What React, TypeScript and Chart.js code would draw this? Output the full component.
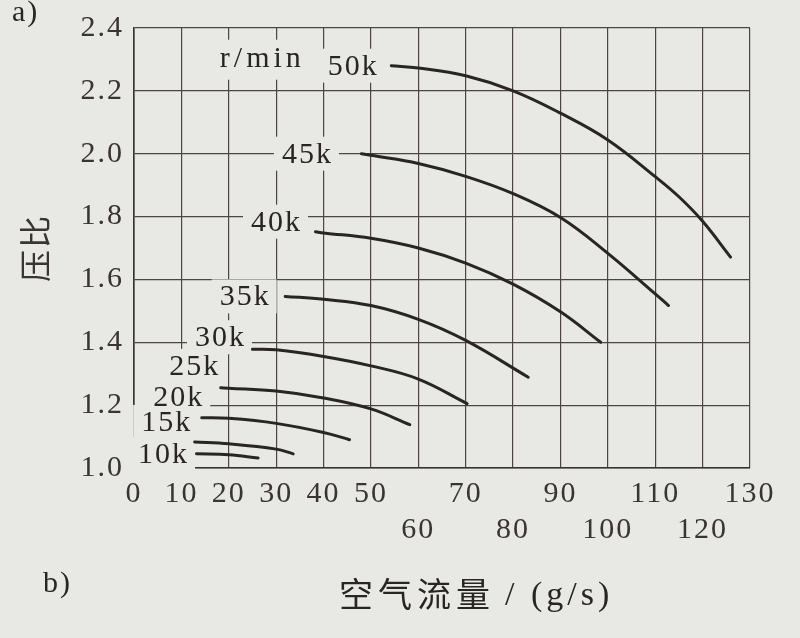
import { useEffect, useRef } from 'react';
import { Chart, registerables } from 'chart.js';

Chart.register(...registerables);

// Speed lines (r/min)
const speedLabels = ['10k', '15k', '20k', '25k', '30k', '35k', '40k', '45k', '50k'];
const speedUnit = 'r/min';

// Air flow (g/s) and pressure ratio for each speed line
const flow10k = [13.2, 20, 26.2];
const ratio10k = [1.045, 1.042, 1.032];
const flow15k = [12.8, 20, 30, 33.6];
const ratio15k = [1.083, 1.077, 1.06, 1.045];
const flow20k = [14.3, 20, 30, 40, 45.5];
const ratio20k = [1.16, 1.158, 1.142, 1.113, 1.09];
const flow25k = [18.3, 20, 30, 40, 50, 58.2];
const ratio25k = [1.255, 1.254, 1.245, 1.223, 1.188, 1.138];
const flow30k = [25, 30, 40, 50, 60, 70.3];
const ratio30k = [1.378, 1.376, 1.355, 1.325, 1.283, 1.205];
const flow35k = [31.9, 40, 50, 60, 70, 83.2];
const ratio35k = [1.546, 1.537, 1.517, 1.473, 1.406, 1.289];
const flow40k = [38.3, 40, 50, 60, 70, 80, 90, 98.5];
const ratio40k = [1.752, 1.748, 1.731, 1.7, 1.652, 1.585, 1.497, 1.4];
const flow45k = [48, 50, 60, 70, 80, 90, 100, 110, 112.8];
const ratio45k = [2.0, 1.995, 1.969, 1.928, 1.873, 1.797, 1.683, 1.554, 1.517];
const flow50k = [54.3, 60, 70, 80, 90, 100, 110, 115, 120, 125.9];
const ratio50k = [2.28, 2.273, 2.248, 2.2, 2.129, 2.044, 1.927, 1.863, 1.785, 1.671];

// Axis ticks
const xMin = 0;
const xMax = 130;
const xStep = 10;
const xSecondRowTicks = [60, 80, 100, 120];
const yMin = 1.0;
const yMax = 2.4;
const yStep = 0.2;

// Texts
const xTitleCjk = '空气流量';
const xTitleUnit = '/ (g/s)';
const yTitle = '压比';
const panelA = 'a)';
const panelB = 'b)';

const flows = [flow10k, flow15k, flow20k, flow25k, flow30k, flow35k, flow40k, flow45k, flow50k];
const ratios = [ratio10k, ratio15k, ratio20k, ratio25k, ratio30k, ratio35k, ratio40k, ratio45k, ratio50k];

// label placement relative to the start of each speed line (pixels)
const labelOffsets = [
  [-34, 0], [-29, -20], [-24, -21], [-27, -22], [-33, -12],
  [-41, 0], [-40, -10], [-55, 0], [-39, 0],
];

const BG = '#e8e8e4';
const INK = '#2a2525';
const GRID = '#4d4545';
const SERIF = '"Liberation Serif", "Times New Roman", serif';
const CJK = '"Noto Sans CJK SC", sans-serif';

export default function App() {
  const ref = useRef<HTMLCanvasElement | null>(null);

  useEffect(() => {
    if (!ref.current) return;

    const datasets = speedLabels.map((label, i) => ({
      label,
      data: flows[i].map((x, j) => ({ x, y: ratios[i][j] })),
      borderColor: INK,
      backgroundColor: INK,
      borderWidth: 3,
      pointRadius: 0,
      tension: 0.4,
      borderCapStyle: 'round' as const,
      fill: false,
    }));

    const decor = {
      id: 'decor',
      beforeDraw(chart: any) {
        const { ctx } = chart;
        ctx.save();
        ctx.fillStyle = BG;
        ctx.fillRect(0, 0, chart.width, chart.height);
        ctx.restore();
        ctx.letterSpacing = '2px';
      },
      beforeDatasetsDraw(chart: any) {
        const { ctx, scales } = chart;
        ctx.save();
        ctx.font = `30px ${SERIF}`;
        ctx.letterSpacing = '2px';
        ctx.textAlign = 'center';
        ctx.textBaseline = 'middle';
        const items = speedLabels.map((label, i) => {
          const px = scales.x.getPixelForValue(flows[i][0]);
          const py = scales.y.getPixelForValue(ratios[i][0]);
          return { label, cx: px + labelOffsets[i][0], cy: py + labelOffsets[i][1] };
        });
        const top = items[items.length - 1];
        const unit = { cx: top.cx - 92, cy: top.cy - 8 };
        ctx.fillStyle = BG;
        items.forEach((it) => {
          const w = ctx.measureText(it.label).width;
          ctx.fillRect(it.cx - w / 2 - 7, it.cy - 17, w + 14, 34);
        });
        ctx.letterSpacing = '4px';
        const uw = ctx.measureText(speedUnit).width;
        ctx.fillRect(unit.cx - uw / 2 - 7, unit.cy - 18, uw + 14, 40);
        ctx.fillStyle = INK;
        ctx.fillText(speedUnit, unit.cx + 2, unit.cy + 1);
        ctx.letterSpacing = '2px';
        items.forEach((it) => ctx.fillText(it.label, it.cx + 1, it.cy + 1));
        ctx.restore();
      },
      afterDraw(chart: any) {
        const { ctx } = chart;
        ctx.save();
        ctx.fillStyle = INK;
        ctx.textBaseline = 'middle';
        ctx.textAlign = 'left';
        ctx.font = `30px ${SERIF}`;
        ctx.letterSpacing = '2px';
        ctx.fillText(panelA, 12, 13);
        ctx.fillText(panelB, 43, 584);
        ctx.font = `34px ${CJK}`;
        ctx.letterSpacing = '5px';
        const x0 = 339;
        ctx.fillText(xTitleCjk, x0, 594);
        const w = ctx.measureText(xTitleCjk).width;
        ctx.font = `34px ${SERIF}`;
        ctx.letterSpacing = '4px';
        ctx.fillText(xTitleUnit, x0 + w + 10, 596);
        ctx.restore();
      },
    };

    const chart = new Chart(ref.current, {
      type: 'line',
      data: { datasets },
      plugins: [decor],
      options: {
        responsive: false,
        animation: false,
        layout: { padding: { left: 0, right: 50, top: 21, bottom: 0 } },
        plugins: {
          legend: { display: false },
          tooltip: { enabled: false },
        },
        scales: {
          x: {
            type: 'linear',
            min: xMin,
            max: xMax,
            afterFit(scale: any) { scale.height = 170; },
            grid: { color: GRID, lineWidth: 1.2, drawTicks: false },
            border: { display: true, color: '#3a3232', width: 1.6 },
            ticks: {
              stepSize: xStep,
              autoSkip: false,
              maxRotation: 0,
              padding: 8,
              color: '#3a3434',
              font: { family: SERIF, size: 30, lineHeight: 1.2 },
              callback: (v: any) => (xSecondRowTicks.includes(Number(v)) ? ['', String(v)] : String(v)),
            },
          },
          y: {
            type: 'linear',
            min: yMin,
            max: yMax,
            afterFit(scale: any) { scale.width = 134; },
            grid: { color: GRID, lineWidth: 1.2, drawTicks: false },
            border: { display: true, color: '#3a3232', width: 1.6 },
            title: {
              display: true,
              text: yTitle,
              color: '#3a3434',
              font: { family: CJK, size: 32, lineHeight: 1.2 },
              padding: { top: 16, bottom: 0 },
            },
            ticks: {
              stepSize: yStep,
              padding: 10,
              color: '#3a3434',
              font: { family: SERIF, size: 30, lineHeight: 1.2 },
              callback: (v: any) => Number(v).toFixed(1),
            },
          },
        },
      },
    });

    return () => chart.destroy();
  }, []);

  return (
    <div style={{ position: 'fixed', left: 0, top: 0, width: 800, height: 638, background: BG }}>
      <canvas ref={ref} width={800} height={638} style={{ display: 'block' }} />
    </div>
  );
}
